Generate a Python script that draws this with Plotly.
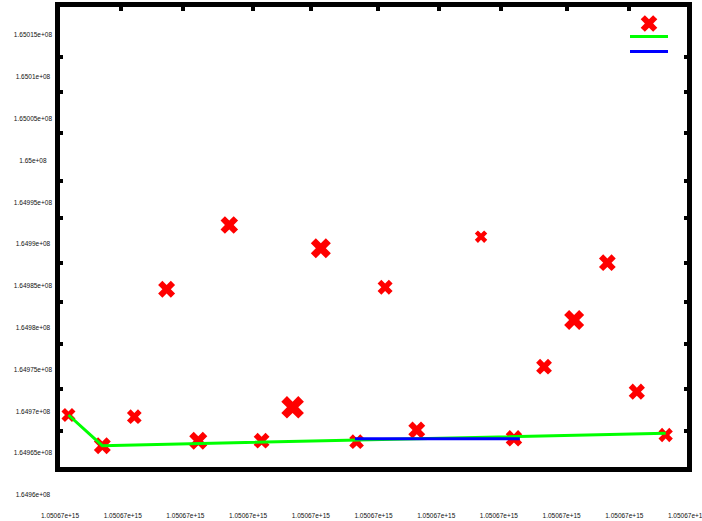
import plotly.graph_objects as go

# ---- data ----
x_vals = [0.27, 1.35, 2.37, 3.40, 4.41, 5.40, 6.43, 7.42, 8.32, 9.46,
          10.37, 11.38, 13.43, 14.48, 15.44, 16.40, 17.46, 18.40, 19.32]
y_vals = [164969565, 164965894, 164969362, 164984594, 164966492, 164992283,
          164966492, 164970486, 164989497, 164966373, 164984833, 164967772,
          164990884, 164966779, 164975340, 164980924, 164987775, 164972351,
          164967174]
marker_sizes = [12.4, 15, 13, 15, 16, 15.5, 14, 20, 17.7, 13,
                13.3, 15, 11, 14.6, 14, 17.7, 14.8, 14.4, 12.7]

green_x = [0.27, 1.35, 19.32]
green_y = [164969565, 164965894, 164967376]

blue_x = [9.41, 14.67]
blue_y = [164966736, 164966736]

x_tick_vals = [0, 2, 4, 6, 8, 10, 12, 14, 16, 18, 20]
x_tick_text = ["1.05067e+15"] * len(x_tick_vals)
x_top_marks = [1.95, 3.92, 6.16, 8.01, 10.15, 12.09, 14.07, 16.17, 18.15]

y_tick_vals = [164960000, 164965000, 164970000, 164975000, 164980000, 164985000,
               164990000, 164995000, 165000000, 165005000, 165010000, 165015000]
y_tick_text = ["1.6496e+08", "1.64965e+08", "1.6497e+08", "1.64975e+08", "1.6498e+08",
               "1.64985e+08", "1.6499e+08", "1.64995e+08", "1.65e+08", "1.65005e+08",
               "1.6501e+08", "1.65015e+08"]
y_side_marks = [165012370, 165008185, 165003283, 164997543, 164993120, 164987739,
                164983076, 164978054, 164972674, 164967652]

# ---- layout geometry ----
W, H = 702, 521
box_l, box_r, box_t, box_b = 60, 687, 7, 467
lab_top_px, lab_bot_px = 35, 495
paper_bot = 505
paper_h = paper_bot - box_t
k = (y_tick_vals[-1] - y_tick_vals[0]) / (lab_bot_px - lab_top_px)
y3_range = [y_tick_vals[0] - (paper_bot - lab_bot_px) * k,
            y_tick_vals[0] + (lab_bot_px - box_t) * k]
y_range = [y_tick_vals[0] + (lab_bot_px - box_b) * k,
           y_tick_vals[0] + (lab_bot_px - box_t) * k]
y_domain = [(paper_bot - box_b) / paper_h, 1]
x_range = [-0.0005, 20.0005]

maxlen = max(len(t) for t in y_tick_text)
y_tick_text_padded = [t + "\u00a0" * (maxlen - len(t)) for t in y_tick_text]

font = dict(family="Liberation Sans, Arial, sans-serif", size=6.5, color="#111111")

fig = go.Figure()
fig.add_trace(go.Scatter(
    x=x_vals, y=y_vals, mode="markers", name="",
    marker=dict(symbol="x", size=marker_sizes, color="#ff0000", opacity=1,
                line=dict(width=0)),
    showlegend=True, legend="legend",
))
fig.add_trace(go.Scatter(
    x=green_x, y=green_y, mode="lines", name="",
    line=dict(color="#00ff00", width=3), legend="legend2",
))
fig.add_trace(go.Scatter(
    x=blue_x, y=blue_y, mode="lines", name="",
    line=dict(color="#0000ff", width=3), legend="legend3",
))
# helper (empty) traces so the extra axes are drawn
fig.add_trace(go.Scatter(x=[None], y=[None], xaxis="x2", yaxis="y", showlegend=False, hoverinfo="skip"))
fig.add_trace(go.Scatter(x=[None], y=[None], xaxis="x", yaxis="y3", showlegend=False, hoverinfo="skip"))


def legend_at(top_px):
    return dict(
        xref="container", yref="container", x=625 / W, y=1 - top_px / H,
        xanchor="left", yanchor="top", bgcolor="rgba(0,0,0,0)",
        borderwidth=0, font=dict(size=8), tracegroupgap=0, itemwidth=38,
    )


fig.update_layout(
    template="none",
    width=W, height=H,
    margin=dict(l=box_l, r=W - box_r, t=box_t, b=H - paper_bot, autoexpand=False),
    paper_bgcolor="white", plot_bgcolor="rgba(0,0,0,0)",
    font=font,
    xaxis=dict(
        domain=[0, 1], range=x_range, anchor="y",
        showline=True, linewidth=5, linecolor="black", mirror=True,
        ticks="", tickmode="array", tickvals=x_tick_vals, ticktext=x_tick_text,
        ticklabelstandoff=38, ticklabeloverflow="allow",
        showgrid=False, zeroline=False, automargin=False, tickfont=font,
    ),
    xaxis2=dict(
        overlaying="x", range=x_range, side="top", anchor="y",
        showline=False, ticks="inside", ticklen=4, tickwidth=3.5, tickcolor="black",
        tickmode="array", tickvals=x_top_marks, showticklabels=False,
        showgrid=False, zeroline=False, automargin=False,
    ),
    yaxis=dict(
        domain=y_domain, range=y_range, anchor="x",
        showline=True, linewidth=5, linecolor="black", mirror="ticks",
        ticks="inside", ticklen=3, tickwidth=3.5, tickcolor="black",
        tickmode="array", tickvals=y_side_marks, showticklabels=False,
        showgrid=False, zeroline=False, automargin=False,
    ),
    yaxis3=dict(
        domain=[0, 1], range=y3_range, anchor="free", position=0,
        showline=False, ticks="", tickmode="array", tickvals=y_tick_vals,
        ticktext=y_tick_text_padded, ticklabelstandoff=8,
        showgrid=False, zeroline=False, automargin=False, tickfont=font,
    ),
    showlegend=True,
    legend=legend_at(9),
    legend2=legend_at(22),
    legend3=legend_at(37),
)

fig.write_html("out.html", post_script="document.body.style.margin='0';",
               config={"displayModeBar": False})
